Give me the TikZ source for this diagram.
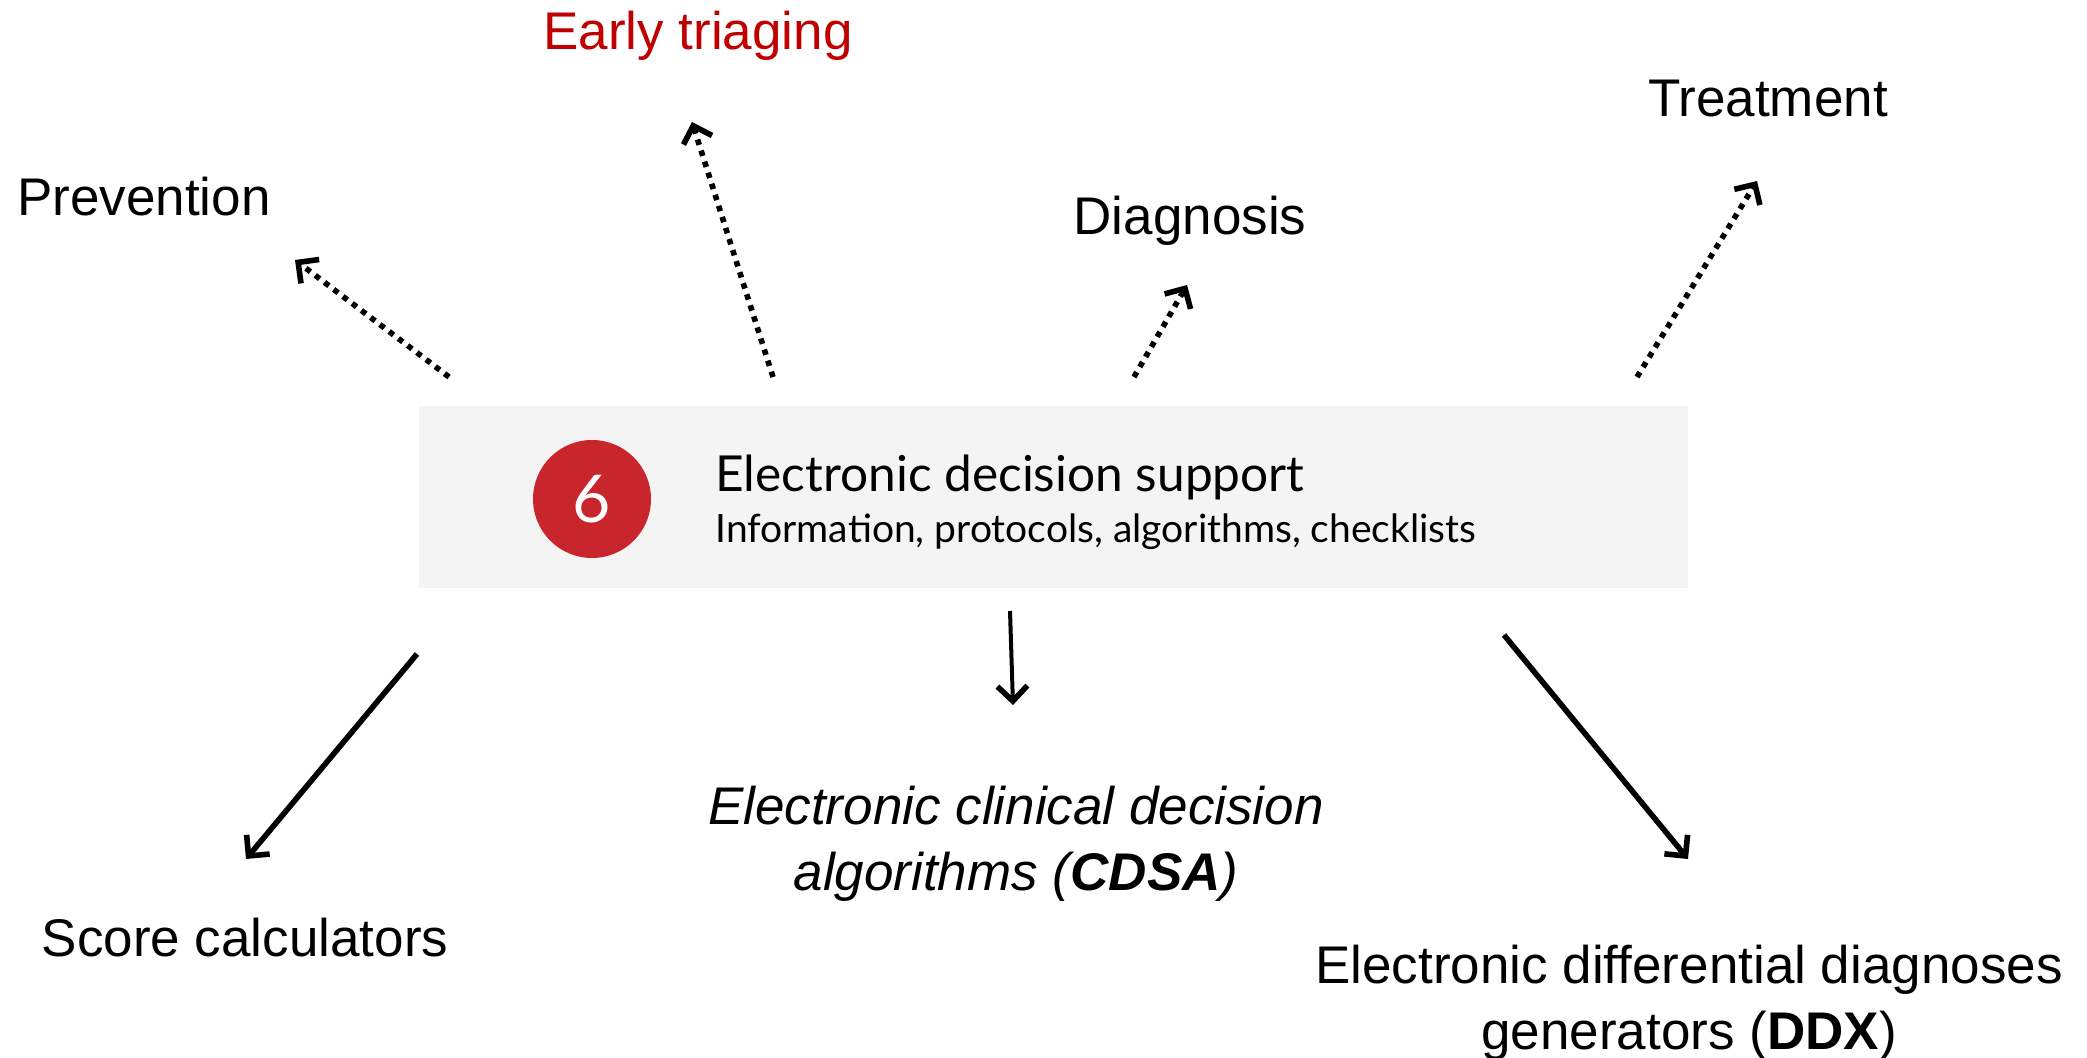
\documentclass[tikz,border=0pt]{standalone}
\usepackage{fontspec}
\setmainfont{Liberation Sans}
\newfontfamily\boxfont{Lato}
\usetikzlibrary{arrows.meta}
\definecolor{boxgray}{HTML}{F4F4F4}
\definecolor{badgered}{HTML}{C9252C}
\definecolor{labelred}{HTML}{C00000}
\tikzset{
  label text/.style={font=\fontsize{26.5}{33}\selectfont, inner sep=0pt, align=center},
  tip/.style={-{Straight Barb[length=7.5pt,width=15pt,line width=2.8pt]}},
  dotarrow/.style={tip, line width=2.8pt, dash pattern=on 2.8pt off 3pt},
  solidarrow/.style={tip, line width=2.8pt},
}
\begin{document}
\begin{tikzpicture}[x=0.5pt,y=-0.5pt]
\useasboundingbox (0,0) rectangle (2087,1058);

% central panel
\node[fill=boxgray, minimum width=634.5pt, minimum height=91pt, inner sep=0pt] (panel) at (1053.5,497) {};
\node[circle, fill=badgered, minimum size=59pt, inner sep=0pt, text=white,
      font=\boxfont\fontsize{33}{36}\selectfont] (badge) at (592,499) {6};
\node[anchor=west, inner sep=0pt, font=\boxfont\fontsize{24.8}{28}\selectfont] (title) at (715,477) {Electronic decision support};
\node[anchor=west, inner sep=0pt, font=\boxfont\fontsize{19.5}{22}\selectfont] (subtitle) at (715,532) {Information, protocols, algorithms, checklists};

% outcome labels
\node[label text] (prevention) at (144,197) {Prevention};
\node[label text, text=labelred] (triage) at (698,36) {Early triaging};
\node[label text] (diagnosis) at (1190,221) {Diagnosis};
\node[label text] (treatment) at (1768,99) {Treatment};
\node[label text] (score) at (245,938) {Score calculators};
\node[label text, font=\fontsize{26.5}{33}\selectfont\itshape] (cdsa) at (1016,844)
  {Electronic clinical decision\\algorithms (\textbf{CDSA})};
\node[label text] (ddx) at (1689,1003)
  {Electronic differential diagnoses\\generators (\textbf{DDX})};

% connector ends
\coordinate (pS) at (449,377);  \coordinate (pE) at (295,260);
\coordinate (tS) at (773,377);  \coordinate (tE) at (692,122);
\coordinate (dS) at (1134,377); \coordinate (dE) at (1187,285);
\coordinate (rS) at (1637,377); \coordinate (rE) at (1757,181);
\coordinate (sS) at (417,654);  \coordinate (sE) at (246,859);
\coordinate (cS) at (1010,611); \coordinate (cE) at (1013,705);
\coordinate (xS) at (1504,635); \coordinate (xE) at (1688,859);

% dotted arrows towards the care stages
\draw[dotarrow] (pS) -- (pE);
\draw[dotarrow] (tS) -- (tE);
\draw[dotarrow] (dS) -- (dE);
\draw[dotarrow] (rS) -- (rE);

% solid arrows towards the tool types
\draw[solidarrow] (sS) -- (sE);
\draw[solidarrow, line width=2pt] (cS) -- (cE);
\draw[solidarrow] (xS) -- (xE);
\end{tikzpicture}
\end{document}
